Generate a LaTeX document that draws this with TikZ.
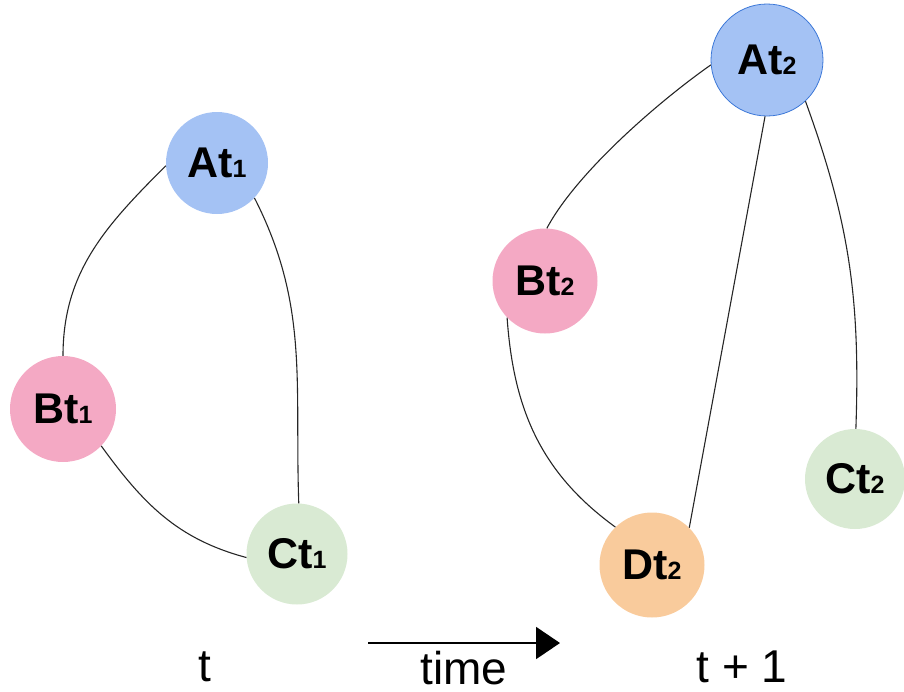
\documentclass[tikz,border=0pt]{standalone}
\usepackage{fontspec}
\setmainfont{Liberation Sans}
\usetikzlibrary{arrows.meta}
\definecolor{nodeblue}{HTML}{A4C2F4}
\definecolor{nodepink}{HTML}{F4A9C4}
\definecolor{nodegreen}{HTML}{D9EAD3}
\definecolor{nodeorange}{HTML}{F9CB9C}
\definecolor{ringblue}{HTML}{3C78D8}
% vertex label: name followed by a small index on the baseline
\newcommand\vlabel[2]{#1{\fontsize{25}{25}\selectfont #2}}

\begin{document}
\begin{tikzpicture}[x=1pt,y=1pt,
  vertex/.style={circle, inner sep=0pt, font=\fontsize{43}{43}\selectfont\bfseries},
  link/.style={line width=1.1pt, draw=black!85},
  caption/.style={font=\fontsize{46}{46}\selectfont, anchor=base, inner sep=0pt}]
\useasboundingbox (0,0) rectangle (904,-691);

% graph at time t
\node[vertex, fill=nodeblue,  minimum size=102pt] (A1) at (217,-163) {\vlabel{At}{1}};
\node[vertex, fill=nodepink,  minimum size=106pt] (B1) at (63,-409)  {\vlabel{Bt}{1}};
\node[vertex, fill=nodegreen, minimum size=101pt] (C1) at (297,-554) {\vlabel{Ct}{1}};

% graph at time t + 1
\node[vertex, fill=nodeblue, draw=ringblue, line width=0.8pt, minimum size=112pt] (A2) at (767,-60) {\vlabel{At}{2}};
\node[vertex, fill=nodepink,   minimum size=105pt] (B2) at (545,-281) {\vlabel{Bt}{2}};
\node[vertex, fill=nodeorange, minimum size=105pt] (D2) at (652,-565) {\vlabel{Dt}{2}};
\node[vertex, fill=nodegreen,  minimum size=100pt] (C2) at (855,-479) {\vlabel{Ct}{2}};

% edges at time t
\draw[link] (A1.183) to[out=225,in=90] (B1.90);
\draw[link] (A1.-43) to[out=-63,in=92] (C1.88);
\draw[link] (B1.-44) to[out=-54,in=165] (C1.184);

% edges at time t + 1
\draw[link] (A2.185) to[out=215,in=62,looseness=0.7] (B2.88);
\draw[link] (A2.268) -- (D2.45);
\draw[link] (A2.-47) to[out=-70,in=88] (C2.89);
\draw[link] (B2.224) to[out=-86,in=144] (D2.134);

% time axis
\coordinate (tstart) at (368,-643);
\coordinate (tend) at (560,-643);
\draw[line width=2pt, -{Triangle[length=24pt,width=32pt]}] (tstart) -- (tend);

\node[caption] (lt)    at (205,-681) {t};
\node[caption] (ltime) at (464,-684) {time};
\node[caption] (ltt)   at (742,-682) {t + 1};
\end{tikzpicture}
\end{document}
